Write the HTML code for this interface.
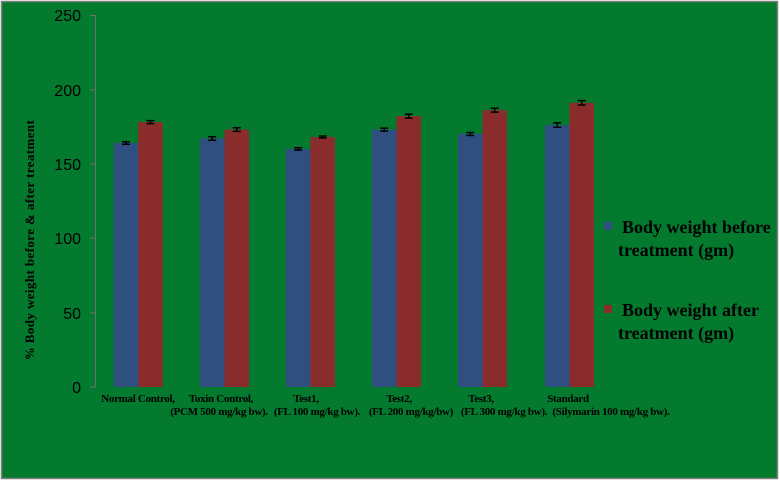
<!DOCTYPE html>
<html><head><meta charset="utf-8"><style>
html,body{margin:0;padding:0;background:#fff;}
svg{display:block;}
.t{font-family:"Liberation Serif",serif;font-weight:bold;font-size:11px;letter-spacing:-0.3px;fill:#000;}
.y{font-family:"Liberation Sans",sans-serif;font-size:16px;fill:#000;}
.l{font-family:"Liberation Serif",serif;font-weight:bold;font-size:18px;fill:#000;}
</style></head><body>
<svg width="780" height="483" viewBox="0 0 780 483">
<rect x="1.5" y="1.5" width="776" height="477" fill="#047a2e" stroke="#808080" stroke-width="1.5"/>
<line x1="95.5" y1="15" x2="95.5" y2="387" stroke="#707070"/>
<g stroke="#707070">
<line x1="90" y1="15.5" x2="95" y2="15.5"/><line x1="90" y1="90" x2="95" y2="90"/><line x1="90" y1="164" x2="95" y2="164"/><line x1="90" y1="238" x2="95" y2="238"/><line x1="90" y1="313" x2="95" y2="313"/><line x1="90" y1="387" x2="95" y2="387"/>
</g>
<g class="y" text-anchor="end">
<text x="81" y="21">250</text><text x="81" y="96">200</text><text x="81" y="170">150</text><text x="81" y="244">100</text><text x="81" y="319">50</text><text x="81" y="393">0</text>
</g>
<text class="t" transform="translate(34,240) rotate(-90)" text-anchor="middle" style="font-size:13px;letter-spacing:0.4px">%  Body weight before &amp; after treatment</text>
<g fill="#2e4f80">
<rect x="113.7" y="143.0" width="24.5" height="244.0"/>
<rect x="200" y="138.5" width="24.5" height="248.5"/>
<rect x="286" y="148.9" width="24.5" height="238.1"/>
<rect x="372" y="129.6" width="24.5" height="257.4"/>
<rect x="458" y="134.0" width="24.5" height="253.0"/>
<rect x="545" y="125.1" width="24.5" height="261.9"/>
</g>
<g fill="#8b2c2c">
<rect x="138.2" y="122.1" width="24.5" height="264.9"/>
<rect x="224.5" y="129.6" width="24.5" height="257.4"/>
<rect x="310.5" y="137.0" width="24.5" height="250.0"/>
<rect x="396.5" y="116.2" width="24.5" height="270.8"/>
<rect x="482.5" y="110.2" width="24.5" height="276.8"/>
<rect x="569.5" y="102.8" width="24.5" height="284.2"/>
</g>
<g stroke="#000" stroke-width="1.5" fill="none">
<path d="M122 141.8h8M122 144.2h8M126 141.8v2.4"/>
<path d="M208.2 136.7h8M208.2 140.3h8M212.2 136.7v3.6"/>
<path d="M294.2 147.7h8M294.2 150.1h8M298.2 147.7v2.4"/>
<path d="M380.2 128.1h8M380.2 131.1h8M384.2 128.1v3"/>
<path d="M466.2 132.5h8M466.2 135.5h8M470.2 132.5v3"/>
<path d="M553.2 122.9h8M553.2 127.3h8M557.2 122.9v4.4"/>
<path d="M146.4 120.6h8M146.4 123.6h8M150.4 120.6v3"/>
<path d="M232.7 127.8h8M232.7 131.4h8M236.7 127.8v3.6"/>
<path d="M318.7 136h8M318.7 138h8M322.7 136v2"/>
<path d="M404.7 114.3h8M404.7 118.1h8M408.7 114.3v3.8"/>
<path d="M490.7 108.3h8M490.7 112.1h8M494.7 108.3v3.8"/>
<path d="M577.7 100.6h8M577.7 105h8M581.7 100.6v4.4"/>
</g>
<g class="l">
<rect x="604" y="222" width="8" height="8" fill="#2e4f80"/>
<text x="622" y="233">Body weight before</text>
<text x="618" y="256">treatment (gm)</text>
<rect x="604" y="305" width="8" height="8" fill="#8b2c2c"/>
<text x="622" y="316">Body weight after</text>
<text x="618" y="339">treatment (gm)</text>
</g>
<g class="t" text-anchor="middle">
<text x="138" y="402">Normal Control,</text>
<text x="221" y="402">Toxin Control,</text><text x="219" y="415">(PCM 500 mg/kg bw).</text>
<text x="306" y="402">Test1,</text><text x="317" y="415">(FL 100 mg/kg bw).</text>
<text x="399" y="402">Test2,</text><text x="411" y="415">(FL 200 mg/kg/bw)</text>
<text x="481" y="402">Test3,</text><text x="504" y="415">(FL 300 mg/kg bw).</text>
<text x="568" y="402">Standard</text><text x="611" y="415">(Silymarin 100 mg/kg bw).</text>
</g>
</svg>
</body></html>
